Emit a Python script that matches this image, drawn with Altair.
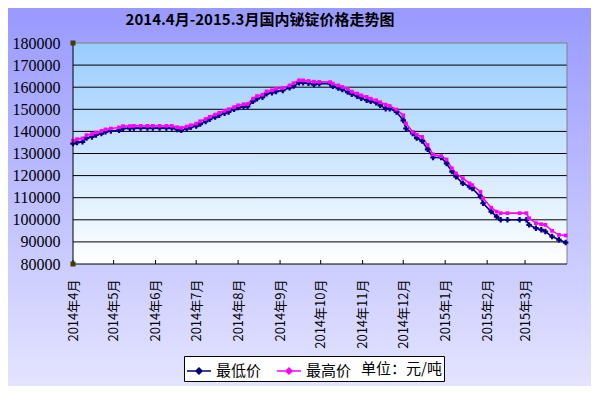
import altair as alt
import pandas as pd

# ---------------- data ----------------
dates = [
    "2014-04-01", "2014-04-04", "2014-04-08", "2014-04-11", "2014-04-15", "2014-04-18",
    "2014-04-22", "2014-04-25", "2014-04-29", "2014-05-05", "2014-05-08", "2014-05-13",
    "2014-05-16", "2014-05-21", "2014-05-26", "2014-05-30", "2014-06-04", "2014-06-09",
    "2014-06-13", "2014-06-17", "2014-06-20", "2014-06-24", "2014-06-27", "2014-07-01",
    "2014-07-04", "2014-07-08", "2014-07-11", "2014-07-15", "2014-07-18", "2014-07-22",
    "2014-07-25", "2014-07-29", "2014-08-01", "2014-08-05", "2014-08-08", "2014-08-12",
    "2014-08-15", "2014-08-19", "2014-08-22", "2014-08-26", "2014-08-29", "2014-09-03",
    "2014-09-08", "2014-09-11", "2014-09-15", "2014-09-18", "2014-09-22", "2014-09-26",
    "2014-09-30", "2014-10-08", "2014-10-10", "2014-10-14", "2014-10-17", "2014-10-21",
    "2014-10-24", "2014-10-28", "2014-10-31", "2014-11-04", "2014-11-07", "2014-11-11",
    "2014-11-14", "2014-11-18", "2014-11-21", "2014-11-26", "2014-12-01", "2014-12-03",
    "2014-12-08", "2014-12-11", "2014-12-15", "2014-12-19", "2014-12-23", "2014-12-29",
    "2015-01-02", "2015-01-06", "2015-01-09", "2015-01-14", "2015-01-19", "2015-01-21",
    "2015-01-27", "2015-01-29", "2015-02-04", "2015-02-08", "2015-02-11", "2015-02-16",
    "2015-02-25", "2015-03-02", "2015-03-04", "2015-03-09", "2015-03-13", "2015-03-16",
    "2015-03-21", "2015-03-26", "2015-03-31",
]
min_prices = [
    134500, 135000, 135300, 137000, 137500, 138400,
    139000, 139800, 140200, 140500, 141300, 141400,
    141500, 141500, 141500, 141500, 141500, 141500,
    141500, 140900, 140500, 141200, 141900, 142400,
    143300, 144500, 145500, 146500, 147300, 148200,
    148800, 150000, 150800, 151100, 151300, 153600,
    154800, 155500, 157000, 157500, 158100, 158500,
    159800, 160500, 162000, 162000, 161800, 161200,
    161600, 161600, 160400, 159600, 158900, 157800,
    156800, 155900, 155000, 154100, 153600, 153000,
    151800, 150300, 150300, 148800, 145000, 141300,
    139100, 137000, 135600, 131900, 128200, 128200,
    125500, 121800, 119500, 116500, 115000, 114200,
    110500, 107500, 103700, 101400, 100000, 100000,
    100000, 100000, 97700, 96200, 95500, 94700,
    92400, 91000, 89700,
]
max_prices = [
    135800, 136500, 136800, 138300, 138800, 139500,
    140200, 140900, 141300, 141800, 142400, 142400,
    142500, 142500, 142500, 142500, 142500, 142500,
    142500, 141900, 141600, 142200, 142800, 143500,
    144600, 145600, 146600, 147600, 148400, 149300,
    150000, 151000, 151800, 152300, 152400, 154800,
    156000, 156600, 158100, 158600, 159300, 159700,
    160800, 161800, 163100, 163100, 162800, 162500,
    162400, 162300, 161600, 160800, 160100, 159200,
    158000, 157100, 156300, 155600, 154800, 154100,
    153200, 152100, 151500, 149900, 147300, 143600,
    139800, 138500, 137500, 133800, 129600, 128800,
    127300, 123300, 121000, 118800, 116500, 115700,
    112700, 109800, 105500, 103700, 103000, 103000,
    103000, 103000, 100700, 98500, 98000, 97700,
    95000, 93200, 92900,
]
series_names = ["最低价", "最高价"]
series_colors = ["#000080", "#FF00FF"]
months = [
    "2014-04-01", "2014-05-01", "2014-06-01", "2014-07-01", "2014-08-01", "2014-09-01",
    "2014-10-01", "2014-11-01", "2014-12-01", "2015-01-01", "2015-02-01", "2015-03-01",
]
x_domain = ["2014-04-01", "2015-04-01"]
y_ticks = [80000, 90000, 100000, 110000, 120000, 130000, 140000, 150000, 160000, 170000, 180000]
grid_values = [90000, 100000, 110000, 120000, 130000, 140000, 150000, 160000, 170000]
title_text = ["2014.4月-2015.3月国内铋锭价格走势图"]
unit_text = "单位：元/吨"

# ---------------- layout (pixels inside the 583x378 canvas) ----------------
CW, CH = 583, 378
PL, PR, PT, PB = 65, 559, 35, 256   # plot-area edges

def ms(s):
    return int(pd.Timestamp(s, tz="UTC").value // 1_000_000)

df = pd.DataFrame({
    "date": dates * 2,
    "series": [series_names[0]] * len(dates) + [series_names[1]] * len(dates),
    "price": min_prices + max_prices,
})
month_df = pd.DataFrame({"date": months})
grid_df = pd.DataFrame({"price": grid_values})
corner_df = pd.DataFrame({"date": [x_domain[0], x_domain[0]], "price": [y_ticks[0], y_ticks[-1]]})
title_df = pd.DataFrame({"t": title_text})
one = pd.DataFrame({"k": [0]})

xscale = alt.Scale(type="utc", domain=[ms(x_domain[0]), ms(x_domain[1])], range=[PL, PR])
yscale = alt.Scale(domain=[y_ticks[0], y_ticks[-1]], nice=False, zero=False, range=[PB, PT])

x_axis = alt.Axis(
    values=[ms(m) for m in months],
    labelExpr="utcFormat(datum.value, '%Y年%-m月')",
    labelAngle=270, labelPadding=15, ticks=False, tickSize=0, offset=-(CH - PB),
    domain=False, grid=False, title=None,
    labelFont="Noto Sans CJK SC", labelFontSize=13, labelColor="#000000",
    labelOverlap=False,
)
y_axis = alt.Axis(
    values=y_ticks, format="d", ticks=False, tickSize=0, labelPadding=13, offset=-PL,
    domain=False, grid=False, title=None,
    labelFont="Liberation Serif", labelFontSize=16, labelColor="#000000",
    labelOverlap=False,
)
X = alt.X("date:T", scale=xscale, axis=x_axis)
Y = alt.Y("price:Q", scale=yscale, axis=y_axis)

plot_bg = alt.Chart(one).mark_rect(
    color=alt.LinearGradient(
        gradient="linear", x1=0, x2=0, y1=0, y2=1,
        stops=[alt.GradientStop(color="#99CCFF", offset=0),
               alt.GradientStop(color="#FFFFFF", offset=1)],
    ),
).encode(x=alt.value(PL), x2=alt.value(PR), y=alt.value(PT), y2=alt.value(PB))

grid = alt.Chart(grid_df).mark_rule(color="#000000", strokeWidth=1).encode(
    y=Y, x=alt.value(PL), x2=alt.value(PR)
)

frame_gray = [
    alt.Chart(one).mark_rule(color="#808080").encode(x=alt.value(PL), x2=alt.value(PR), y=alt.value(PT)),
    alt.Chart(one).mark_rule(color="#808080").encode(x=alt.value(PR), y=alt.value(PT), y2=alt.value(PB)),
]
frame_black = [
    alt.Chart(one).mark_rule(color="#000000").encode(x=alt.value(PL), y=alt.value(PT), y2=alt.value(PB)),
    alt.Chart(one).mark_rule(color="#000000").encode(x=alt.value(PL), x2=alt.value(PR), y=alt.value(PB)),
]

color = alt.Color(
    "series:N",
    scale=alt.Scale(domain=series_names, range=series_colors),
    legend=alt.Legend(
        title=unit_text, titleOrient="right", orient="none", direction="horizontal",
        legendX=176, legendY=348,
        fillColor="#FFFFFF", strokeColor="#000000", padding=2,
        symbolType="M-1,0L1,0M0,-0.25L0.25,0L0,0.25L-0.25,0Z",
        symbolSize=576, symbolStrokeWidth=1.5,
        labelFont="Noto Sans CJK SC", labelFontSize=15, labelColor="#000000",
        titleFont="Noto Sans CJK SC", titleFontSize=15, titleFontWeight="normal",
        titleColor="#000000", titlePadding=10, columnPadding=12, labelOffset=4,
    ),
)

base = alt.Chart(df).encode(x=X, y=Y, color=color)
lines = base.mark_line(strokeWidth=1.6)
pts_min = base.transform_filter(alt.datum.series == series_names[0]).mark_point(
    shape="cross", filled=True, size=30, opacity=1
)
pts_max = base.transform_filter(alt.datum.series == series_names[1]).mark_point(
    shape="square", filled=True, size=14, opacity=1
)

ticks = alt.Chart(month_df).mark_rule(color="#000000").encode(
    x=X, y=alt.value(PB - 4), y2=alt.value(PB),
)

corners = alt.Chart(corner_df).mark_point(
    shape="square", filled=True, size=25, color="#3F3F00", opacity=1
).encode(x=X, y=Y)

title = alt.Chart(title_df).mark_text(
    font="Noto Sans CJK SC", fontSize=15, fontWeight="bold", color="#000000",
    align="center", baseline="middle",
).encode(text="t:N", x=alt.value(252), y=alt.value(12))

bg_expr = ("{gradient: 'linear', x1: 0, y1: 0, x2: 0, y2: 1, "
           "stops: [{offset: 0, color: '#9999FF'}, {offset: 1, color: '#E4E4FF'}]}")

chart = alt.layer(
    plot_bg, grid, *frame_gray, lines, pts_min, pts_max, *frame_black, ticks, corners, title
).properties(
    width=CW, height=CH,
    autosize=alt.AutoSizeParams(type="none"),
    padding=0,
).configure_view(
    stroke=None,
    fill={"expr": bg_expr},
)

chart.save("out.html", embed_options={"renderer": "svg", "actions": False})
